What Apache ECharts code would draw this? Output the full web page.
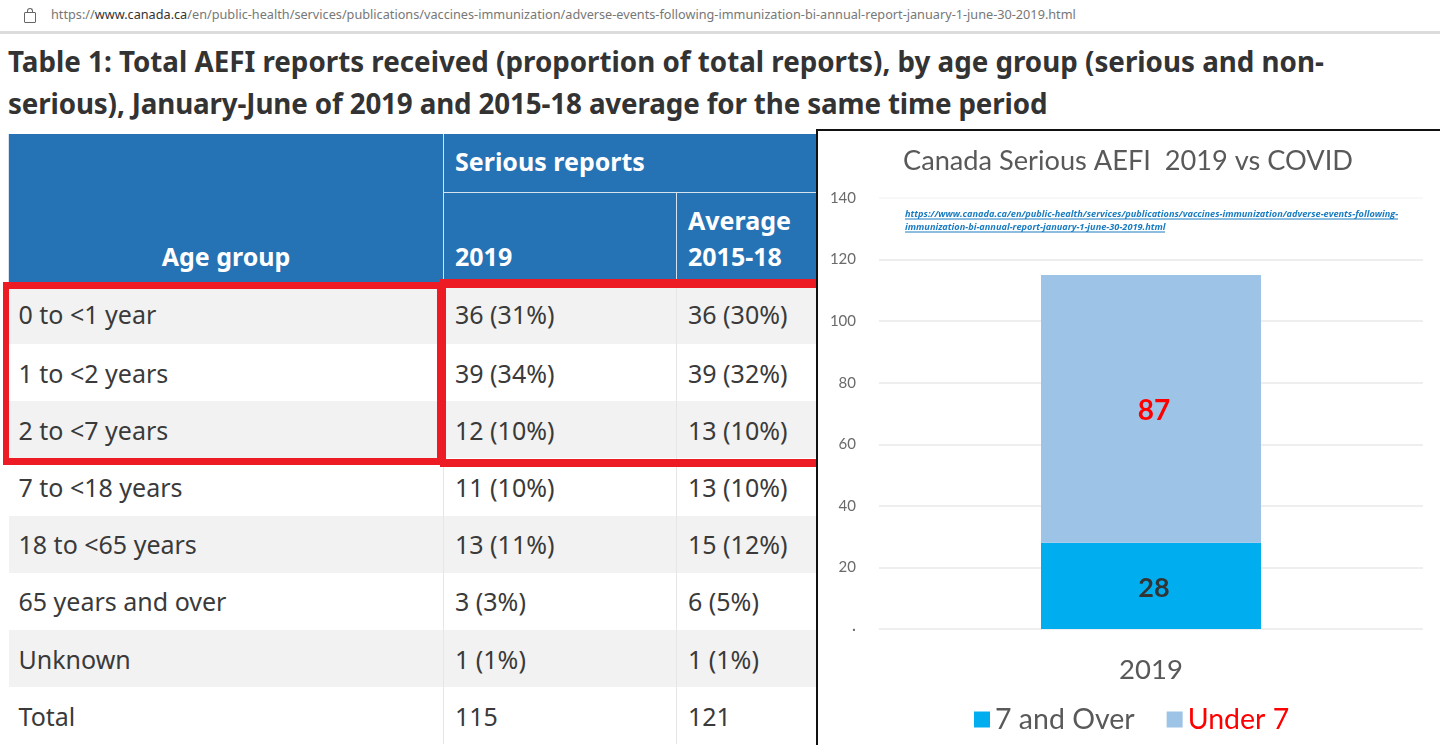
<!DOCTYPE html>
<html>
<head>
<meta charset="utf-8">
<title>Canada Serious AEFI 2019 vs COVID</title>
<script src="https://cdn.jsdelivr.net/npm/echarts@6/dist/echarts.min.js"></script>
<style>
  html, body { margin: 0; padding: 0; width: 1440px; height: 745px; overflow: hidden; background: #fff; font-family: 'Noto Sans', sans-serif; color: #333; }
  #urlbar { position: absolute; left: 0; top: 0; width: 1440px; height: 31px; border-bottom: 3px solid #dcdcdc; font-size: 12.7px; line-height: 29px; color: #777; }
  #urlbar span { position: absolute; left: 51px; white-space: nowrap; }
  #urlbar b { font-weight: normal; color: #333; }
  #lock { position: absolute; left: 24px; top: 12px; width: 10px; height: 9px; border: 1px solid #666; border-radius: 1px; }
  #lock:before { content: ''; position: absolute; left: 2px; top: -5px; width: 4px; height: 4px; border: 1px solid #666; border-bottom: 0; border-radius: 3px 3px 0 0; }
  h1 { position: absolute; left: 8px; top: 40px; width: 1400px; margin: 0; font-size: 27.75px; line-height: 42px; font-weight: 700; color: #333; white-space: nowrap; }
  h1 span { letter-spacing: -0.13px; }
  table { position: absolute; left: 8px; top: 134px; width: 900px; border-collapse: collapse; table-layout: fixed; font-size: 25px; }
  th { background: #2572b4; color: #fff; font-size: 25px; font-weight: 700; text-align: left; padding: 0 0 8px 11px; vertical-align: bottom; line-height: 36px; border: 1px solid #d6e3ef; border-top: 0; box-sizing: border-box; }
  td { padding: 0 0 0 11px; height: 57.2px; border-right: 1px solid #e6e6e6; box-sizing: border-box; color: #3a3a3a; }
  tr.first td { height: 62px; padding-top: 2px; }
  td:first-child { padding-left: 10px; }
  tr.alt td { background: #f2f2f2; }
  .red { position: absolute; border: solid #ed1c24; box-sizing: border-box; }
  #chart { position: absolute; left: 816px; top: 129px; width: 624px; height: 616px; box-sizing: border-box; border-left: 2px solid #111; border-top: 2px solid #111; background: #fff; }
</style>
</head>
<body>
<div id="urlbar"><div id="lock"></div><span id="url"></span></div>
<h1 id="heading"></h1>
<table id="tbl"></table>
<div class="red" style="left:3px;top:282px;width:440px;height:183px;border-width:7px 6px 7px 6px"></div>
<div class="red" style="left:440px;top:279px;width:400px;height:188px;border-width:9px 0 8px 6px"></div>
<div id="chart"></div>
<script>
var pageUrl = 'https://www.canada.ca/en/public-health/services/publications/vaccines-immunization/adverse-events-following-immunization-bi-annual-report-january-1-june-30-2019.html'
var headingLines = [
  'Table 1: Total AEFI reports received (proportion of total reports), by age group (serious and non-',
  'serious), January-June of 2019 and 2015-18 average for the same time period'
]
var ageGroups = ['0 to <1 year', '1 to <2 years', '2 to <7 years', '7 to <18 years', '18 to <65 years', '65 years and over', 'Unknown', 'Total']
var serious2019 = ['36 (31%)', '39 (34%)', '12 (10%)', '11 (10%)', '13 (11%)', '3 (3%)', '1 (1%)', '115']
var seriousAvg = ['36 (30%)', '39 (32%)', '13 (10%)', '13 (10%)', '15 (12%)', '6 (5%)', '1 (1%)', '121']

var years = ['2019']
var overSeven = [28]
var underSeven = [87]
var linkLines = [
  'https://www.canada.ca/en/public-health/services/publications/vaccines-immunization/adverse-events-following-',
  'immunization-bi-annual-report-january-1-june-30-2019.html'
]

// page around the chart
document.getElementById('url').innerHTML = pageUrl.replace('www.canada.ca', '<b>www.canada.ca</b>')
document.getElementById('heading').innerHTML = headingLines[0] + '<br><span>' + headingLines[1] + '</span>'
var rows = '<colgroup><col style="width:435px"><col style="width:233px"><col></colgroup>' +
  '<tr><th rowspan="2" style="text-align:center;padding-left:0">Age group</th><th colspan="2" style="height:58px;padding-bottom:4px;vertical-align:middle">Serious reports</th></tr>' +
  '<tr><th style="height:90px">2019</th><th>Average<br>2015-18</th></tr>'
ageGroups.forEach(function(name, i) {
  var esc = function(s) { return s.replace(/</g, '&lt;') }
  var cls = (i % 2 === 0 ? 'alt' : '') + (i === 0 ? ' first' : '')
  rows += '<tr class="' + cls + '"><td>' + esc(name) + '</td><td>' + serious2019[i] + '</td><td>' + seriousAvg[i] + '</td></tr>'
})
document.getElementById('tbl').innerHTML = rows

var chart = echarts.init(document.getElementById('chart'))
var option = {
  animation: false,
  backgroundColor: '#fff',
  textStyle: { fontFamily: 'Lato' },
  title: {
    text: 'Canada Serious AEFI  2019 vs COVID',
    left: 80,
    top: 12,
    textStyle: { fontFamily: 'Lato', fontSize: 27.2, fontWeight: 'normal', color: '#595959' }
  },
  grid: { left: 61, right: 17, top: 67, bottom: 116 },
  legend: {
    bottom: 6,
    left: 151,
    icon: 'rect',
    itemWidth: 16,
    itemHeight: 16,
    itemGap: 32,
    data: [
      { name: '7 and Over', textStyle: { color: '#595959' } },
      { name: 'Under 7', textStyle: { color: '#ff0000' } }
    ],
    textStyle: { fontFamily: 'Lato', fontSize: 28.5 }
  },
  xAxis: {
    type: 'category',
    data: years,
    axisLine: { show: false },
    axisTick: { show: false },
    axisLabel: { fontFamily: 'Lato', fontSize: 27.5, color: '#595959', margin: 27 }
  },
  yAxis: {
    type: 'value',
    min: 0,
    max: 140,
    interval: 20,
    axisLine: { show: false },
    axisTick: { show: false },
    axisLabel: {
      fontFamily: 'Lato',
      fontSize: 15,
      color: '#6a6a6a',
      margin: 23,
      formatter: function(value) {
        return value === 0 ? '·' : value
      }
    },
    splitLine: {
      lineStyle: {
        color: ['#e8e8e8', '#e8e8e8', '#e8e8e8', '#e8e8e8', '#e8e8e8', '#e8e8e8', '#e8e8e8', '#f6f6f6'],
        width: 1.5
      }
    }
  },
  series: [
    {
      name: '7 and Over',
      type: 'bar',
      stack: 'total',
      barWidth: 220,
      data: overSeven,
      itemStyle: { color: '#00aeef' },
      label: { show: true, position: 'inside', offset: [3, 2], fontSize: 27, fontWeight: 'bold', color: '#333', fontFamily: 'Lato' }
    },
    {
      name: 'Under 7',
      type: 'bar',
      stack: 'total',
      barWidth: 220,
      data: underSeven,
      itemStyle: { color: '#9dc3e6' },
      label: { show: true, position: 'inside', offset: [3, 2], fontSize: 28, fontWeight: 'bold', color: '#ff0000', fontFamily: 'Lato' }
    }
  ],
  graphic: [
    {
      type: 'text',
      left: 87,
      top: 77,
      style: {
        text: linkLines.join('\n'),
        fill: '#1a7cc0',
        font: 'italic bold 9.2px "Open Sans"',
        lineHeight: 13
      }
    },
    // the link's underlines, zrender text has none of its own
    { type: 'line', shape: { x1: 87, y1: 88, x2: 580, y2: 88 }, style: { stroke: '#1a7cc0', lineWidth: 1 } },
    { type: 'line', shape: { x1: 87, y1: 101, x2: 347, y2: 101 }, style: { stroke: '#1a7cc0', lineWidth: 1 } }
  ]
}
chart.setOption(option)
window.addEventListener('resize', function() {
  chart.resize()
})
</script>
</body>
</html>
